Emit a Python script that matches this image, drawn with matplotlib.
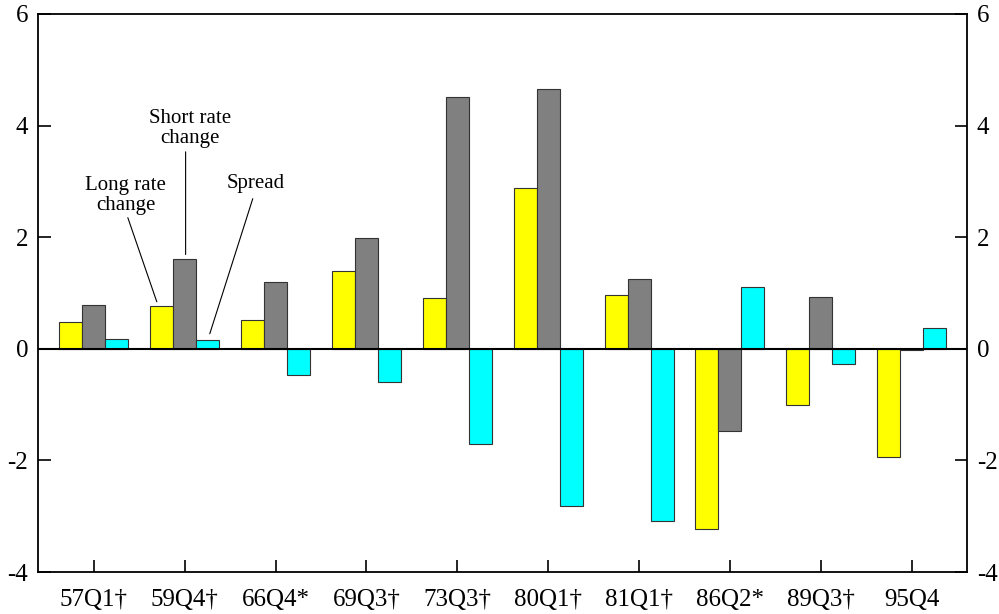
import numpy as np
import matplotlib
matplotlib.use('Agg')
import matplotlib.pyplot as plt

plt.rcParams['font.family'] = ['Liberation Serif', 'DejaVu Serif']

quarters = ['57Q1†', '59Q4†', '66Q4*', '69Q3†', '73Q3†',
            '80Q1†', '81Q1†', '86Q2*', '89Q3†', '95Q4']
long_rate = [0.48, 0.77, 0.52, 1.40, 0.91, 2.89, 0.97, -3.23, -1.00, -1.94]
short_rate = [0.79, 1.61, 1.20, 1.99, 4.52, 4.66, 1.25, -1.47, 0.93, -0.02]
spread = [0.18, 0.16, -0.47, -0.59, -1.70, -2.81, -3.08, 1.11, -0.27, 0.38]

x = np.arange(len(quarters))
w = 0.253

fig = plt.figure(figsize=(9.99, 6.14), dpi=100)
ax = fig.add_axes([0.038, 0.0684, 0.930, 0.9088])

edge = '#333333'
ax.bar(x - w, long_rate, w, color='#FFFF00', edgecolor=edge, linewidth=0.8)
ax.bar(x, short_rate, w, color='#808080', edgecolor=edge, linewidth=0.8)
ax.bar(x + w, spread, w, color='#00FFFF', edgecolor=edge, linewidth=0.8)

ax.axhline(0, color='black', linewidth=1.5, zorder=3)

ax.set_xlim(-0.615, 9.61)
ax.set_ylim(-4, 6)
ax.set_xticks(x)
ax.set_xticklabels(quarters)
ax.set_yticks([-4, -2, 0, 2, 4, 6])
ax.set_yticklabels(['-4', '-2', '0', '2', '4', '6'])

ax.tick_params(axis='x', direction='in', length=9, width=1.2, labelsize=18, pad=12, top=False)
ax.tick_params(axis='y', direction='in', length=9, width=1.2, labelsize=18, pad=7,
               left=True, right=True, labelleft=True, labelright=True)
for s in ax.spines.values():
    s.set_linewidth(1.3)

# series labels with leader lines
ax.text(0.35, 2.75, 'Long rate\nchange', ha='center', va='center',
        fontsize=15, linespacing=1.1)
ax.text(1.056, 3.95, 'Short rate\nchange', ha='center', va='center',
        fontsize=15, linespacing=1.1)
ax.text(1.78, 2.97, 'Spread', ha='center', va='center', fontsize=15)

leader = dict(arrowstyle='-', color='black', linewidth=0.8, shrinkA=0, shrinkB=0)
ax.annotate('', xy=(0.693, 0.842), xytext=(0.374, 2.35), arrowprops=leader)
ax.annotate('', xy=(1.01, 1.69), xytext=(1.01, 3.53), arrowprops=leader)
ax.annotate('', xy=(1.276, 0.27), xytext=(1.749, 2.69), arrowprops=leader)

fig.savefig('out.png', dpi=100)
